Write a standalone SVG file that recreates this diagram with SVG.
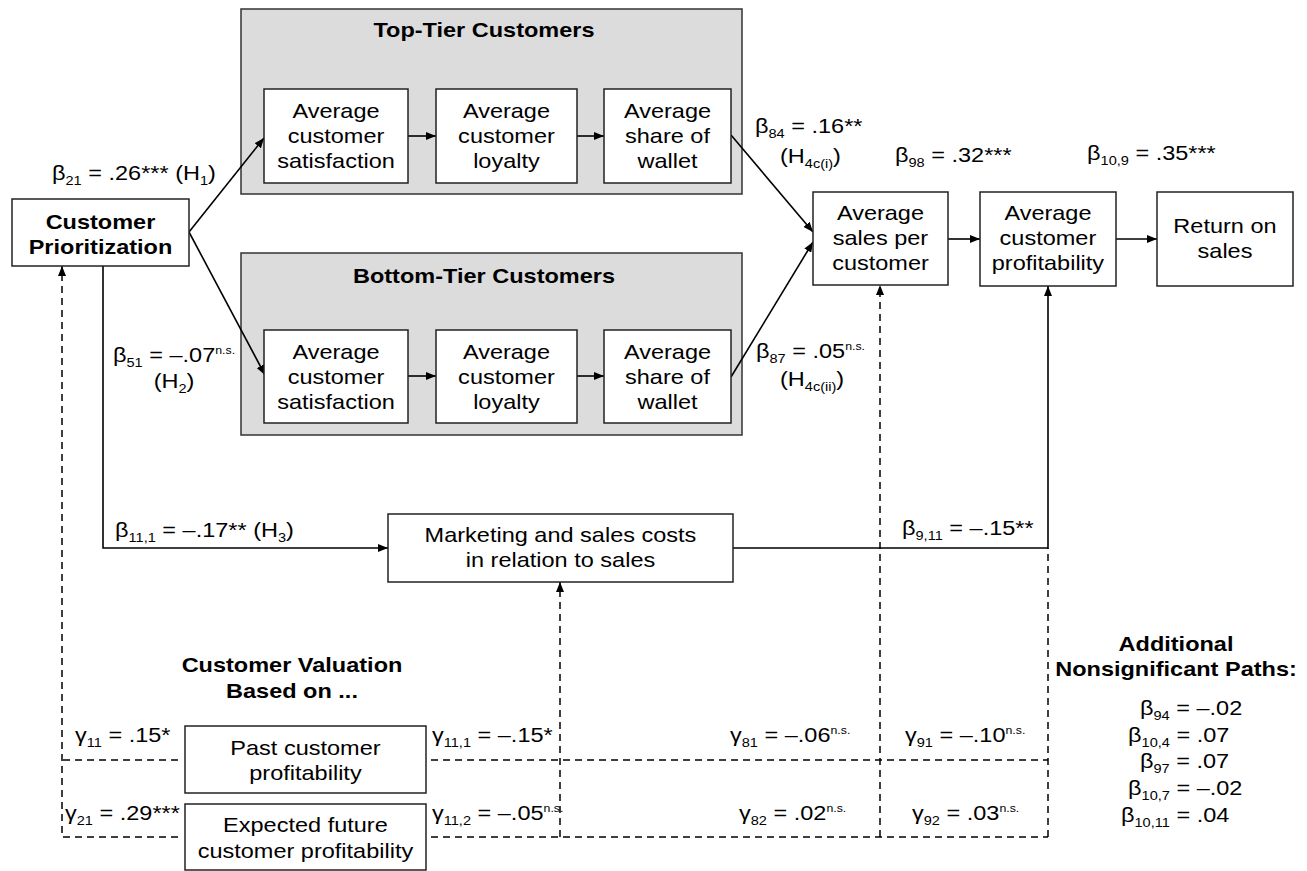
<svg xmlns="http://www.w3.org/2000/svg" width="1307" height="871" viewBox="0 0 1307 871">
<style>
text{font-family:"Liberation Sans",Arial,Helvetica,sans-serif;fill:#000;transform-box:fill-box;transform:scaleX(1.12)}
.n{font-size:21px;text-anchor:middle;transform-origin:center}
.b{font-weight:bold}
.l{font-size:21px;text-anchor:start;transform-origin:left center}
.lc{font-size:21px;text-anchor:middle;transform-origin:center}
.sb{font-size:13px}
.sp{font-size:11px}
.box{fill:#fff;stroke:#222;stroke-width:1.5}
.grp{fill:#dcdcdc;stroke:#333;stroke-width:1.5}
.ln{fill:none;stroke:#000;stroke-width:1.6}
.ds{fill:none;stroke:#000;stroke-width:1.5;stroke-dasharray:7 5}
.arr{marker-end:url(#ah)}
</style>
<defs>
<marker id="ah" viewBox="0 0 10 8" refX="10" refY="4" markerWidth="10" markerHeight="8" markerUnits="userSpaceOnUse" orient="auto"><path d="M0,0 L10,4 L0,8 z" fill="#000"/></marker>
</defs>
<rect width="1307" height="871" fill="#fff"/>

<g id="top-tier">
<rect class="grp" x="241" y="9" width="501" height="185"/>
<text class="n b" x="484" y="37">Top-Tier Customers</text>
</g>
<g id="bottom-tier">
<rect class="grp" x="241" y="253" width="501" height="182"/>
<text class="n b" x="484" y="283">Bottom-Tier Customers</text>
</g>

<g id="connectors">
<line class="ln arr" x1="189" y1="232" x2="264" y2="138"/>
<line class="ln arr" x1="189" y1="232" x2="265" y2="375"/>
<line class="ln arr" x1="408" y1="136" x2="436" y2="136"/>
<line class="ln arr" x1="577" y1="136" x2="604" y2="136"/>
<line class="ln arr" x1="408" y1="376" x2="436" y2="376"/>
<line class="ln arr" x1="577" y1="376" x2="604" y2="376"/>
<line class="ln arr" x1="731" y1="135" x2="813" y2="232"/>
<line class="ln arr" x1="731" y1="377" x2="813" y2="242"/>
<line class="ln arr" x1="948" y1="239" x2="980" y2="239"/>
<line class="ln arr" x1="1116" y1="239" x2="1157" y2="239"/>
<path class="ln arr" d="M103,266 V548 H388"/>
<path class="ln arr" d="M733,548 H1048 V286"/>
<path class="ds arr" d="M178,837 H62 V266"/>
<path class="ds" d="M178,760 H62"/>
<path class="ds" d="M431,760 H1048"/>
<path class="ds" d="M431,837 H1048"/>
<path class="ds arr" d="M560,837 V582"/>
<path class="ds arr" d="M880,837 V285"/>
<path class="ds" d="M1048,837 V548"/>
</g>

<g id="customer-prioritization">
<rect class="box" x="12" y="199" width="177" height="67"/>
<text class="n b"><tspan x="100.5" y="229">Customer</tspan><tspan x="100.5" y="254">Prioritization</tspan></text>
</g>
<g id="top-satisfaction">
<rect class="box" x="264" y="89" width="144" height="94"/>
<text class="n"><tspan x="336" y="118">Average</tspan><tspan x="336" y="143">customer</tspan><tspan x="336" y="168">satisfaction</tspan></text>
</g>
<g id="top-loyalty">
<rect class="box" x="436" y="89" width="141" height="94"/>
<text class="n"><tspan x="506.5" y="118">Average</tspan><tspan x="506.5" y="143">customer</tspan><tspan x="506.5" y="168">loyalty</tspan></text>
</g>
<g id="top-wallet">
<rect class="box" x="604" y="89" width="127" height="94"/>
<text class="n"><tspan x="667.5" y="118">Average</tspan><tspan x="667.5" y="143">share of</tspan><tspan x="667.5" y="168">wallet</tspan></text>
</g>
<g id="bottom-satisfaction">
<rect class="box" x="264" y="330" width="144" height="93"/>
<text class="n"><tspan x="336" y="359">Average</tspan><tspan x="336" y="384">customer</tspan><tspan x="336" y="409">satisfaction</tspan></text>
</g>
<g id="bottom-loyalty">
<rect class="box" x="436" y="330" width="141" height="93"/>
<text class="n"><tspan x="506.5" y="359">Average</tspan><tspan x="506.5" y="384">customer</tspan><tspan x="506.5" y="409">loyalty</tspan></text>
</g>
<g id="bottom-wallet">
<rect class="box" x="604" y="330" width="127" height="93"/>
<text class="n"><tspan x="667.5" y="359">Average</tspan><tspan x="667.5" y="384">share of</tspan><tspan x="667.5" y="409">wallet</tspan></text>
</g>
<g id="sales-per-customer">
<rect class="box" x="813" y="192" width="135" height="93"/>
<text class="n"><tspan x="880.5" y="220">Average</tspan><tspan x="880.5" y="245">sales per</tspan><tspan x="880.5" y="270">customer</tspan></text>
</g>
<g id="customer-profitability">
<rect class="box" x="980" y="192" width="136" height="94"/>
<text class="n"><tspan x="1048" y="220">Average</tspan><tspan x="1048" y="245">customer</tspan><tspan x="1048" y="270">profitability</tspan></text>
</g>
<g id="return-on-sales">
<rect class="box" x="1157" y="192" width="136" height="94"/>
<text class="n"><tspan x="1225" y="233">Return on</tspan><tspan x="1225" y="258">sales</tspan></text>
</g>
<g id="marketing-costs">
<rect class="box" x="388" y="514" width="345" height="68"/>
<text class="n"><tspan x="560.5" y="542">Marketing and sales costs</tspan><tspan x="560.5" y="567">in relation to sales</tspan></text>
</g>
<g id="valuation-heading">
<text class="n b"><tspan x="292" y="672">Customer Valuation</tspan><tspan x="292" y="698">Based on ...</tspan></text>
</g>
<g id="past-profitability">
<rect class="box" x="185" y="726" width="241" height="67"/>
<text class="n"><tspan x="305.5" y="755">Past customer</tspan><tspan x="305.5" y="780">profitability</tspan></text>
</g>
<g id="future-profitability">
<rect class="box" x="185" y="804" width="241" height="66"/>
<text class="n"><tspan x="305.5" y="832">Expected future</tspan><tspan x="305.5" y="858">customer profitability</tspan></text>
</g>

<g id="path-labels">
<text class="l" x="52" y="180">β<tspan class="sb" dy="5">21</tspan><tspan dy="-5"> = .26*** (H</tspan><tspan class="sb" dy="5">1</tspan><tspan dy="-5">)</tspan></text>
<text class="lc" x="174" y="362">β<tspan class="sb" dy="5">51</tspan><tspan dy="-5"> = –.07</tspan><tspan class="sp" dy="-8">n.s.</tspan></text>
<text class="lc" x="174" y="388">(H<tspan class="sb" dy="5">2</tspan><tspan dy="-5">)</tspan></text>
<text class="l" x="755" y="133">β<tspan class="sb" dy="5">84</tspan><tspan dy="-5"> = .16**</tspan></text>
<text class="l" x="780" y="163">(H<tspan class="sb" dy="5">4c(i)</tspan><tspan dy="-5">)</tspan></text>
<text class="l" x="895" y="162">β<tspan class="sb" dy="5">98</tspan><tspan dy="-5"> = .32***</tspan></text>
<text class="l" x="1087" y="160">β<tspan class="sb" dy="5">10,9</tspan><tspan dy="-5"> = .35***</tspan></text>
<text class="l" x="756" y="358">β<tspan class="sb" dy="5">87</tspan><tspan dy="-5"> = .05</tspan><tspan class="sp" dy="-8">n.s.</tspan></text>
<text class="l" x="780" y="386">(H<tspan class="sb" dy="5">4c(ii)</tspan><tspan dy="-5">)</tspan></text>
<text class="l" x="115" y="537">β<tspan class="sb" dy="5">11,1</tspan><tspan dy="-5"> = –.17** (H</tspan><tspan class="sb" dy="5">3</tspan><tspan dy="-5">)</tspan></text>
<text class="l" x="902" y="535">β<tspan class="sb" dy="5">9,11</tspan><tspan dy="-5"> = –.15**</tspan></text>
<text class="l" x="75" y="742">γ<tspan class="sb" dy="5">11</tspan><tspan dy="-5"> = .15*</tspan></text>
<text class="l" x="65" y="820">γ<tspan class="sb" dy="5">21</tspan><tspan dy="-5"> = .29***</tspan></text>
<text class="l" x="432" y="742">γ<tspan class="sb" dy="5">11,1</tspan><tspan dy="-5"> = –.15*</tspan></text>
<text class="l" x="432" y="820">γ<tspan class="sb" dy="5">11,2</tspan><tspan dy="-5"> = –.05</tspan><tspan class="sp" dy="-8">n.s.</tspan></text>
<text class="l" x="730" y="742">γ<tspan class="sb" dy="5">81</tspan><tspan dy="-5"> = –.06</tspan><tspan class="sp" dy="-8">n.s.</tspan></text>
<text class="l" x="905" y="742">γ<tspan class="sb" dy="5">91</tspan><tspan dy="-5"> = –.10</tspan><tspan class="sp" dy="-8">n.s.</tspan></text>
<text class="l" x="739" y="820">γ<tspan class="sb" dy="5">82</tspan><tspan dy="-5"> = .02</tspan><tspan class="sp" dy="-8">n.s.</tspan></text>
<text class="l" x="912" y="820">γ<tspan class="sb" dy="5">92</tspan><tspan dy="-5"> = .03</tspan><tspan class="sp" dy="-8">n.s.</tspan></text>
</g>

<g id="nonsignificant-paths">
<text class="n b"><tspan x="1176" y="651">Additional</tspan><tspan x="1176" y="676">Nonsignificant Paths:</tspan></text>
<text class="l" x="1140" y="715">β<tspan class="sb" dy="5">94</tspan><tspan dy="-5"> = –.02</tspan></text>
<text class="l" x="1128" y="742">β<tspan class="sb" dy="5">10,4</tspan><tspan dy="-5"> = .07</tspan></text>
<text class="l" x="1140" y="768">β<tspan class="sb" dy="5">97</tspan><tspan dy="-5"> = .07</tspan></text>
<text class="l" x="1128" y="795">β<tspan class="sb" dy="5">10,7</tspan><tspan dy="-5"> = –.02</tspan></text>
<text class="l" x="1121" y="822">β<tspan class="sb" dy="5">10,11</tspan><tspan dy="-5"> = .04</tspan></text>
</g>
</svg>
